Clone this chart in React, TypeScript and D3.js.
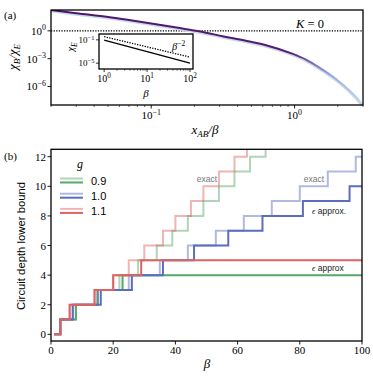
import React from "react";
import * as d3 from "d3";

// panel (a): chi_B / chi_E against x_AB / beta (log10 of y)
const ratioX = [0.02, 0.03, 0.05, 0.07, 0.1, 0.15, 0.22, 0.32, 0.45, 0.65, 0.94, 1.2, 1.5, 2.0, 2.4, 2.74, 3.0];
const ratioLogY = [2.25, 1.9, 1.5, 1.17, 0.8, 0.35, -0.07, -0.6, -1.05, -1.6, -2.4, -3.1, -4.0, -5.35, -6.4, -7.3, -8.1];

// inset: chi_E against beta
const insetBeta = [1, 100];
const insetChi = [0.093, 1e-5];
const insetRef = [0.35, 1.1e-4];

// panel (b): [beta, depth] where the step changes
const exact09 = [[1, 0], [3, 1], [8, 2], [15, 3], [22, 4], [28, 5], [34, 6], [39, 7], [44, 8], [49, 9], [54, 10], [59, 11], [64, 12], [69, 13]];
const approx09 = [[1, 0], [3, 1], [8, 2], [15, 3], [23, 4]];
const exact10 = [[1, 0], [3, 1], [7, 2], [15, 3], [25, 4], [35, 5], [44, 6], [53, 7], [62, 8], [71, 9], [80, 10], [89, 11], [98, 12]];
const approx10 = [[1, 0], [3, 1], [7, 2], [16, 3], [26, 4], [36, 5], [46, 6], [57, 7], [68, 8], [81, 9], [96, 10]];
const exact11 = [[1, 0], [3, 1], [6, 2], [14, 3], [20, 4], [25, 5], [30, 6], [36, 7], [40, 8], [45, 9], [49, 10], [54, 11], [59, 12], [63, 13]];
const approx11 = [[1, 0], [3, 1], [6, 2], [14, 3], [20, 4], [29, 5]];

const gLabels = ["0.9", "1.0", "1.1"];
const gColors = ["#55A868", "#5B6DC0", "#DD6363"];

const depthTicks = [0, 2, 4, 6, 8, 10, 12];
const betaTicks = [0, 20, 40, 60, 80, 100];

const serif = "'Liberation Serif', 'DejaVu Serif', serif";
const sans = "'Liberation Sans', Arial, sans-serif";

const Pow = ({ x, y, e, anchor = "middle", size = 11 }) => (
  <text x={x} y={y} textAnchor={anchor} fontFamily={serif} fontSize={size}>
    10<tspan dy={-size * 0.4} fontSize={size * 0.72}>{e}</tspan>
  </text>
);

export default function App() {
  // ---- panel (a)
  const xA = d3.scaleLog().domain([0.02, 3]).range([51, 363]);
  const yA = d3.scaleLog().domain([1e-8, Math.pow(10, 2.25)]).range([105, 10]);
  const ratioLine = d3
    .line()
    .x((d) => xA(d[0]))
    .y((d) => yA(Math.pow(10, d[1])))
    .curve(d3.curveMonotoneX);
  const ratioPts = ratioX.map((x, i) => [x, ratioLogY[i]]);
  const xAminor = [];
  [0.01, 0.1, 1].forEach((dec) => {
    for (let k = 2; k <= 9; k++) {
      const v = dec * k;
      if (v >= 0.02 && v <= 3) xAminor.push(v);
    }
  });

  const xI = d3.scaleLog().domain([Math.pow(10, -0.12), Math.pow(10, 2.07)]).range([99, 193]);
  const yI = d3.scaleLog().domain([1e-6, 1]).range([69, 34]);
  const xIminor = [];
  [1, 10].forEach((dec) => {
    for (let k = 2; k <= 9; k++) xIminor.push(dec * k);
  });
  const insetLine = d3
    .line()
    .x((d) => xI(d[0]))
    .y((d) => yI(d[1]));

  // ---- panel (b)
  const xB = d3.scaleLinear().domain([0, 100]).range([51, 362]);
  const yB = d3.scaleLinear().domain([-0.45, 12.5]).range([341, 149.3]);
  const step = d3
    .line()
    .x((d) => xB(d[0]))
    .y((d) => yB(d[1]))
    .curve(d3.curveStepAfter);
  const withEnd = (s) => [...s, [100, s[s.length - 1][1]]];
  const series = [
    { d: exact09, c: 0, light: true },
    { d: approx09, c: 0, light: false },
    { d: exact10, c: 1, light: true },
    { d: approx10, c: 1, light: false },
    { d: exact11, c: 2, light: true },
    { d: approx11, c: 2, light: false },
  ];

  return (
    <svg width={373} height={378} style={{ position: "absolute", left: 0, top: 0, background: "#fff" }}>
      <defs>
        <linearGradient id="ratioGrad" gradientUnits="userSpaceOnUse" x1={51} x2={363} y1={0} y2={0}>
          <stop offset="0" stopColor="#4f1566" />
          <stop offset="0.76" stopColor="#561b6e" />
          <stop offset="0.8" stopColor="#6a3d8f" />
          <stop offset="0.85" stopColor="#8479b8" />
          <stop offset="0.9" stopColor="#96acd9" />
          <stop offset="1" stopColor="#c8daef" />
        </linearGradient>
        <clipPath id="clipA">
          <rect x={51} y={10} width={312} height={95} />
        </clipPath>
        <clipPath id="clipB">
          <rect x={51} y={149.3} width={311} height={191.7} />
        </clipPath>
      </defs>

      {/* ---------------- panel (a) ---------------- */}
      <text x={4} y={19} fontFamily={serif} fontSize={11}>(a)</text>
      <g clipPath="url(#clipA)">
        <line x1={51} x2={363} y1={yA(1)} y2={yA(1)} stroke="#000" strokeWidth={1.2} strokeDasharray="1.3,1.3" />
        <path d={ratioLine(ratioPts)} fill="none" stroke="#c9d9ee" strokeWidth={3} transform="translate(0,1)" />
        <path d={ratioLine(ratioPts)} fill="none" stroke="url(#ratioGrad)" strokeWidth={2} />
      </g>
      <text x={296} y={28} fontFamily={serif} fontSize={12.5} fontStyle="italic">
        K<tspan fontStyle="normal"> = 0</tspan>
      </text>
      <rect x={51} y={10} width={312} height={95} fill="none" stroke="#000" strokeWidth={1.3} />
      {[0.1, 1].map((v) => (
        <line key={v} x1={xA(v)} x2={xA(v)} y1={105} y2={108.5} stroke="#000" strokeWidth={0.9} />
      ))}
      {xAminor.map((v) => (
        <line key={v} x1={xA(v)} x2={xA(v)} y1={105} y2={107} stroke="#000" strokeWidth={0.6} />
      ))}
      <Pow x={xA(0.1)} y={119} e="−1" />
      <Pow x={xA(1)} y={119} e="0" />
      {[1, 1e-3, 1e-6].map((v) => (
        <line key={v} x1={47.5} x2={51} y1={yA(v)} y2={yA(v)} stroke="#000" strokeWidth={0.9} />
      ))}
      <Pow x={46} y={yA(1) + 4} e="0" anchor="end" />
      <Pow x={46} y={yA(1e-3) + 4} e="−3" anchor="end" />
      <Pow x={46} y={yA(1e-6) + 4} e="−6" anchor="end" />
      <text x={205} y={134} textAnchor="middle" fontFamily={serif} fontSize={13} fontStyle="italic">
        x<tspan dy={3} fontSize={9}>AB</tspan><tspan dy={-3}>/β</tspan>
      </text>
      <text transform="translate(17,57) rotate(-90)" textAnchor="middle" fontFamily={serif} fontSize={13} fontStyle="italic">
        χ<tspan dy={3} fontSize={9}>B</tspan><tspan dy={-3}>/χ</tspan><tspan dy={3} fontSize={9}>E</tspan>
      </text>

      {/* inset */}
      <rect x={99} y={34} width={94} height={35} fill="#fff" stroke="#000" strokeWidth={1.3} />
      <path d={insetLine(insetBeta.map((b, i) => [b, insetChi[i]]))} fill="none" stroke="#000" strokeWidth={1.3} />
      <path d={insetLine(insetBeta.map((b, i) => [b, insetRef[i]]))} fill="none" stroke="#000" strokeWidth={1.3} strokeDasharray="1.3,1.3" />
      <text x={172} y={50} fontFamily={serif} fontSize={10.5} fontStyle="italic">
        β<tspan dy={-4} fontSize={7.5} fontStyle="normal">−2</tspan>
      </text>
      {[1, 10, 100].map((v) => (
        <line key={v} x1={xI(v)} x2={xI(v)} y1={69} y2={72} stroke="#000" strokeWidth={0.8} />
      ))}
      {xIminor.map((v) => (
        <line key={v} x1={xI(v)} x2={xI(v)} y1={69} y2={70.8} stroke="#000" strokeWidth={0.5} />
      ))}
      <Pow x={xI(1)} y={82} e="0" size={10} />
      <Pow x={xI(10)} y={82} e="1" size={10} />
      <Pow x={xI(100)} y={82} e="2" size={10} />
      {[0.1, 1e-5].map((v) => (
        <line key={v} x1={96} x2={99} y1={yI(v)} y2={yI(v)} stroke="#000" strokeWidth={0.8} />
      ))}
      <Pow x={94.5} y={yI(0.1) + 3.3} e="−1" anchor="end" size={9} />
      <Pow x={94.5} y={yI(1e-5) + 3.3} e="−5" anchor="end" size={9} />
      <text x={146} y={97} textAnchor="middle" fontFamily={serif} fontSize={11} fontStyle="italic">β</text>
      <text transform="translate(74,47) rotate(-90)" textAnchor="middle" fontFamily={serif} fontSize={10.5} fontStyle="italic">
        χ<tspan dy={2.5} fontSize={7.5}>E</tspan>
      </text>

      {/* ---------------- panel (b) ---------------- */}
      <text x={4} y={160} fontFamily={serif} fontSize={11}>(b)</text>
      <g clipPath="url(#clipB)">
        {series.map((s, i) => (
          <path
            key={i}
            d={step(withEnd(s.d))}
            fill="none"
            stroke={gColors[s.c]}
            strokeOpacity={s.light ? 0.48 : 1}
            strokeWidth={2}
          />
        ))}
      </g>
      <text x={207} y={182} textAnchor="middle" fontFamily={sans} fontSize={8.5} fill="#777">exact</text>
      <text x={314} y={182} textAnchor="middle" fontFamily={sans} fontSize={8.5} fill="#777">exact</text>
      <text x={312} y={214} fontFamily={sans} fontSize={8.5} fill="#222">
        <tspan fontFamily={serif} fontStyle="italic">ϵ</tspan> approx.
      </text>
      <text x={312} y={271} fontFamily={sans} fontSize={8.5} fill="#222">
        <tspan fontFamily={serif} fontStyle="italic">ϵ</tspan> approx
      </text>

      {/* legend */}
      <text x={80} y={168} textAnchor="middle" fontFamily={serif} fontSize={12} fontStyle="italic">g</text>
      {gLabels.map((lab, i) => {
        const yc = 180.5 + i * 15.2;
        return (
          <g key={lab}>
            <line x1={60} x2={83} y1={yc - 2} y2={yc - 2} stroke={gColors[i]} strokeOpacity={0.48} strokeWidth={2} />
            <line x1={60} x2={83} y1={yc + 2} y2={yc + 2} stroke={gColors[i]} strokeWidth={2} />
            <text x={91} y={yc + 4} fontFamily={sans} fontSize={11}>{lab}</text>
          </g>
        );
      })}

      <rect x={51} y={149.3} width={311} height={191.7} fill="none" stroke="#000" strokeWidth={1.3} />
      {depthTicks.map((v) => (
        <g key={v}>
          <line x1={47.5} x2={51} y1={yB(v)} y2={yB(v)} stroke="#000" strokeWidth={0.9} />
          <text x={46} y={yB(v) + 4} textAnchor="end" fontFamily={serif} fontSize={11}>{v}</text>
        </g>
      ))}
      {betaTicks.map((v) => (
        <g key={v}>
          <line x1={xB(v)} x2={xB(v)} y1={341} y2={344.5} stroke="#000" strokeWidth={0.9} />
          <text x={xB(v)} y={354} textAnchor="middle" fontFamily={serif} fontSize={11}>{v}</text>
        </g>
      ))}
      <text x={207} y={368} textAnchor="middle" fontFamily={serif} fontSize={13} fontStyle="italic">β</text>
      <text transform="translate(25,246) rotate(-90)" textAnchor="middle" fontFamily={sans} fontSize={11.3}>
        Circuit depth lower bound
      </text>
    </svg>
  );
}
